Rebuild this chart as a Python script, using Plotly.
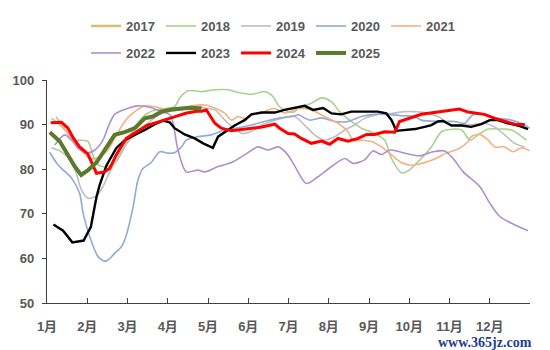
import plotly.graph_objects as go

# x positions are in months from Jan 1 (0 = start of January)
month_labels = ["1月", "2月", "3月", "4月", "5月", "6月", "7月", "8月", "9月", "10月", "11月", "12月"]

x2017 = [None]
y2017 = [None]

x2018 = [0.11, 0.27, 0.44, 0.69, 0.85, 1.02, 1.14, 1.27, 1.48, 1.72, 1.89, 2.05, 2.35, 2.59, 2.84, 3.17, 3.30, 3.50,
         3.84, 4.17, 4.50, 4.75, 5.08, 5.41, 5.58, 5.78, 5.99, 6.15, 6.24, 6.57, 6.82, 7.07, 7.27, 7.56, 7.81, 8.14,
         8.39, 8.56, 8.80, 8.97, 9.22, 9.55, 9.80, 10.00, 10.30, 10.51, 10.71, 10.96, 11.29, 11.54, 11.74, 11.91]
y2018 = [91.4, 90.3, 88.8, 86.5, 86.5, 86.2, 83.2, 80.9, 80.6, 81.7, 84.3, 87.3, 91.4, 93.0, 93.5, 94.0, 96.0, 97.6,
         97.4, 97.8, 97.8, 97.2, 96.8, 97.4, 96.6, 94.0, 92.9, 92.9, 93.7, 94.8, 96.0, 95.1, 92.9, 90.7, 89.2, 88.0,
         86.5, 82.4, 79.2, 79.6, 81.7, 85.0, 88.4, 88.9, 88.8, 86.5, 87.7, 89.0, 89.0, 88.8, 87.7, 86.5]

x2019 = [0.11, 0.36, 0.61, 0.73, 0.85, 1.02, 1.23, 1.39, 1.56, 1.85, 2.10, 2.35, 2.59, 2.84, 3.09, 3.34, 3.59, 3.79,
         3.92, 4.17, 4.42, 4.66, 4.87, 5.08, 5.33, 5.58, 5.82, 6.15, 6.40, 6.65, 6.90, 7.15, 7.40, 7.64, 7.89, 8.22,
         8.56, 8.89, 9.14, 9.30, 9.71, 10.05, 10.30, 10.54, 10.87, 11.12, 11.37, 11.62, 11.87]
y2019 = [84.8, 83.9, 81.7, 79.0, 75.5, 73.5, 74.0, 76.1, 79.4, 84.0, 87.0, 89.0, 91.0, 92.5, 93.0, 93.3, 93.7, 94.0,
         93.7, 93.3, 91.0, 89.0, 88.0, 88.5, 89.9, 90.7, 91.4, 91.8, 89.9, 87.7, 86.5, 87.3, 88.8, 89.9, 91.4, 92.3,
         92.5, 92.9, 92.9, 92.8, 91.8, 89.9, 90.0, 90.0, 90.3, 89.5, 87.7, 85.8, 85.0]

x2020 = [0.07, 0.27, 0.61, 0.81, 0.89, 1.06, 1.27, 1.46, 1.72, 1.85, 1.97, 2.14, 2.26, 2.39, 2.59, 2.80, 3.01, 3.17,
         3.34, 3.46, 3.75, 4.08, 4.42, 4.75, 5.08, 5.41, 5.74, 6.15, 6.24, 6.53, 6.82, 7.15, 7.48, 7.81, 8.14, 8.47,
         8.80, 9.14, 9.30, 9.71, 10.13, 10.38, 10.58, 10.87, 11.20, 11.54, 11.87, 11.99]
y2020 = [83.8, 81.0, 78.0, 74.6, 70.5, 64.9, 60.4, 59.4, 61.5, 62.6, 65.2, 71.6, 77.6, 80.2, 81.5, 83.9, 83.6, 83.7,
         85.0, 86.5, 87.3, 87.7, 88.8, 89.3, 89.9, 90.7, 91.4, 92.0, 92.2, 91.0, 91.5, 90.7, 90.7, 91.8, 92.3, 92.3,
         92.0, 91.8, 91.0, 90.7, 90.7, 90.3, 92.2, 92.2, 91.4, 91.0, 89.9, 89.2]

x2021 = [0.23, 0.36, 0.61, 0.85, 1.06, 1.27, 1.48, 1.68, 1.93, 2.18, 2.43, 2.68, 2.92, 3.25, 3.59, 3.92, 4.17, 4.42,
         4.58, 4.75, 4.91, 5.08, 5.33, 5.49, 5.66, 5.90, 6.24, 6.57, 6.90, 7.23, 7.48, 7.60, 7.81, 8.06, 8.31, 8.56,
         8.80, 9.05, 9.26, 9.59, 9.92, 10.25, 10.46, 10.54, 10.75, 10.96, 11.12, 11.37, 11.58, 11.79, 11.99]
y2021 = [91.8, 89.9, 86.9, 84.3, 82.4, 82.6, 83.9, 86.9, 90.7, 92.9, 94.2, 94.0, 93.5, 93.6, 94.2, 94.4, 93.7, 92.5,
         91.0, 91.8, 91.4, 92.3, 92.5, 93.3, 93.6, 92.6, 93.6, 93.3, 91.8, 90.3, 88.4, 86.5, 86.5, 86.2, 85.0, 83.2,
         81.5, 80.9, 81.2, 82.1, 83.6, 84.7, 86.2, 87.3, 87.8, 86.5, 85.0, 85.0, 83.9, 84.8, 84.1]

x2022 = [0.19, 0.44, 0.61, 0.77, 0.98, 1.19, 1.39, 1.52, 1.68, 1.93, 2.26, 2.59, 2.84, 3.05, 3.13, 3.25, 3.46, 3.75,
         3.92, 4.25, 4.58, 4.91, 5.24, 5.49, 5.74, 5.95, 6.15, 6.44, 6.73, 7.07, 7.40, 7.60, 7.89, 8.10, 8.31, 8.51,
         8.80, 9.26, 9.59, 9.88, 10.09, 10.34, 10.75, 11.00, 11.25, 11.58, 11.95]
y2022 = [85.4, 87.7, 86.5, 84.7, 83.6, 84.3, 86.5, 89.5, 92.3, 93.4, 94.2, 93.8, 92.9, 92.2, 90.5, 84.5, 79.4, 79.8,
         79.4, 80.6, 81.5, 83.2, 85.0, 84.3, 85.0, 83.6, 80.8, 76.8, 78.3, 80.6, 82.4, 81.3, 82.1, 84.1, 83.3, 84.3,
         83.8, 83.0, 83.9, 84.1, 82.4, 79.4, 76.1, 72.4, 69.4, 67.7, 66.2]

x2023 = [0.16, 0.40, 0.63, 0.91, 1.09, 1.23, 1.31, 1.48, 1.72, 1.93, 2.18, 2.43, 2.68, 2.88, 3.05, 3.17, 3.42, 3.67,
         3.88, 4.12, 4.25, 4.42, 4.66, 4.91, 5.08, 5.33, 5.66, 5.90, 6.15, 6.40, 6.61, 6.86, 7.07, 7.31, 7.56, 7.89,
         8.22, 8.43, 8.56, 8.68, 8.89, 9.14, 9.38, 9.55, 9.71, 9.84, 10.05, 10.30, 10.54, 10.79, 11.00, 11.20, 11.45,
         11.70, 11.95]
y2023 = [67.6, 66.2, 63.6, 64.0, 67.1, 73.8, 76.5, 80.9, 84.7, 86.5, 87.7, 88.8, 90.1, 90.9, 90.5, 89.2, 87.8, 86.9,
         85.8, 84.8, 87.3, 88.4, 89.8, 91.0, 92.3, 92.7, 92.7, 93.3, 93.7, 94.2, 93.3, 93.7, 92.5, 92.3, 92.9, 92.9,
         92.9, 92.5, 91.0, 88.6, 88.8, 89.0, 89.5, 89.9, 90.7, 90.8, 89.8, 89.8, 89.5, 90.1, 91.0, 91.0, 90.3, 89.8, 89.0]

x2024 = [0.09, 0.36, 0.52, 0.66, 0.81, 1.01, 1.23, 1.43, 1.56, 1.72, 1.97, 2.23, 2.48, 2.73, 2.97, 3.22, 3.47, 3.72,
         3.84, 3.96, 4.17, 4.33, 4.58, 4.81, 5.08, 5.31, 5.56, 5.66, 5.78, 5.99, 6.15, 6.32, 6.57, 6.82, 7.02, 7.23,
         7.48, 7.73, 7.94, 8.14, 8.39, 8.64, 8.76, 9.01, 9.30, 9.71, 9.96, 10.25, 10.46, 10.87, 11.12, 11.37, 11.62, 11.87]
y2024 = [90.4, 90.5, 89.2, 86.9, 85.0, 83.5, 79.1, 79.4, 80.2, 83.2, 86.9, 88.3, 89.8, 90.5, 91.1, 91.9, 92.6, 93.0,
         93.0, 93.3, 90.3, 89.2, 88.6, 88.8, 89.2, 89.4, 89.9, 90.1, 89.2, 88.0, 87.9, 86.9, 85.8, 86.3, 85.6, 86.9,
         86.3, 86.9, 87.8, 87.8, 88.4, 88.3, 90.7, 91.4, 92.3, 92.8, 93.1, 93.5, 92.8, 92.3, 91.4, 90.7, 90.1, 90.0]

x2025 = [0.07, 0.32, 0.52, 0.69, 0.85, 1.02, 1.23, 1.43, 1.68, 1.93, 2.18, 2.43, 2.63, 2.84, 3.09, 3.34, 3.59, 3.84]
y2025 = [88.3, 86.2, 83.2, 80.6, 78.7, 79.8, 81.5, 84.3, 87.7, 88.3, 89.2, 91.4, 91.8, 92.9, 93.4, 93.6, 93.8, 93.6]

series = [
    ("2017", x2017, y2017, "#D8BE6E", 2.5, "spline", "legend"),
    ("2018", x2018, y2018, "#A9D18E", 1.6, "spline", "legend"),
    ("2019", x2019, y2019, "#BFBFBF", 1.6, "spline", "legend"),
    ("2020", x2020, y2020, "#8FAADC", 1.6, "spline", "legend"),
    ("2021", x2021, y2021, "#F4B183", 1.6, "spline", "legend"),
    ("2022", x2022, y2022, "#B08FCE", 1.6, "spline", "legend2"),
    ("2023", x2023, y2023, "#000000", 2.4, "linear", "legend2"),
    ("2024", x2024, y2024, "#FF0000", 3.0, "linear", "legend2"),
    ("2025", x2025, y2025, "#5B7A2D", 4.0, "linear", "legend2"),
]

fig = go.Figure()
for name, xs, ys, color, w, shape, lg in series:
    fig.add_trace(go.Scatter(
        x=xs, y=ys, name=name, mode="lines",
        line=dict(color=color, width=w, shape=shape, smoothing=0.8 if shape == "spline" else None),
        legend=lg, showlegend=True,
    ))

axis_font = dict(family="Arial, Liberation Sans, Noto Sans CJK SC", size=13, color="#595959", weight="bold")
legend_common = dict(
    orientation="h", xref="container", yref="container", xanchor="left", yanchor="top",
    font=axis_font, bgcolor="rgba(0,0,0,0)", entrywidth=30, entrywidthmode="pixels",
    itemwidth=30, tracegroupgap=0,
)

fig.update_layout(
    width=550, height=350,
    margin=dict(l=47, r=20, t=80, b=47, autoexpand=False),
    paper_bgcolor="white", plot_bgcolor="white",
    font=axis_font,
    legend=dict(x=86 / 550, y=1 - 11 / 350, **legend_common),
    legend2=dict(x=86 / 550, y=1 - 38 / 350, **legend_common),
    xaxis=dict(
        range=[0, 12], tickmode="array", tickvals=list(range(13)),
        ticktext=month_labels + [""], ticks="inside", ticklen=5, tickcolor="#404040",
        showline=True, linecolor="#404040", linewidth=1.3, showgrid=False, zeroline=False,
        ticklabelstandoff=11, tickfont=axis_font,
    ),
    yaxis=dict(
        range=[50, 100], tickvals=[50, 60, 70, 80, 90, 100], ticks="outside", ticklen=4,
        tickcolor="#404040", showline=True, linecolor="#404040", linewidth=1.3,
        showgrid=False, zeroline=False, ticklabelstandoff=5, tickfont=axis_font,
    ),
    annotations=[dict(
        text="www.365jz.com", xref="paper", yref="paper", x=0.907, y=-0.177,
        xanchor="center", yanchor="middle",
        showarrow=False, font=dict(family="Liberation Serif, DejaVu Serif", size=14, color="#1F3F8F"),
    )],
)

fig.write_html("out.html")
